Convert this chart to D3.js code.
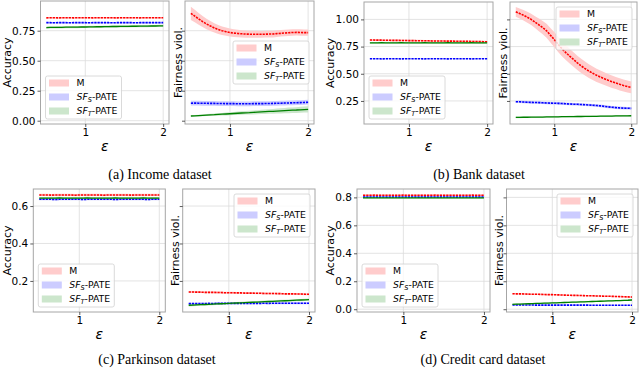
<!DOCTYPE html>
<html>
<head>
<meta charset="utf-8">
<script src="https://cdn.jsdelivr.net/npm/d3@7"></script>
<style>
  body { margin: 0; background: #fff; }
  svg { display: block; }
</style>
</head>
<body>
<svg id="fig" width="640" height="370"></svg>
<script>
// privacy budget values on the x axis
const eps = [0.5, 0.55, 0.6, 0.65, 0.7, 0.75, 0.8, 0.85, 0.9, 0.95, 1.0, 1.05, 1.1, 1.15, 1.2, 1.25,
  1.3, 1.35, 1.4, 1.45, 1.5, 1.55, 1.6, 1.65, 1.7, 1.75, 1.8, 1.85, 1.9, 1.95, 2.0];

// (a) Income
const incAccM = [0.857, 0.858, 0.858, 0.857, 0.858, 0.858, 0.858, 0.857, 0.858, 0.858, 0.858, 0.858, 0.857, 0.858, 0.858, 0.858,
  0.858, 0.858, 0.857, 0.858, 0.858, 0.858, 0.858, 0.858, 0.857, 0.858, 0.858, 0.858, 0.858, 0.858, 0.858];
const incAccS = [0.817, 0.817, 0.816, 0.817, 0.817, 0.817, 0.816, 0.817, 0.817, 0.817, 0.817, 0.816, 0.817, 0.817, 0.817, 0.817,
  0.817, 0.816, 0.817, 0.817, 0.817, 0.817, 0.817, 0.816, 0.817, 0.817, 0.817, 0.817, 0.817, 0.817, 0.817];
const incAccT = [0.776, 0.777, 0.777, 0.778, 0.778, 0.779, 0.779, 0.780, 0.780, 0.781, 0.781, 0.782, 0.782, 0.783, 0.783, 0.784,
  0.784, 0.785, 0.785, 0.786, 0.786, 0.786, 0.787, 0.787, 0.788, 0.788, 0.788, 0.789, 0.789, 0.790, 0.790];
const incFairM = [0.895, 0.872, 0.848, 0.826, 0.806, 0.789, 0.773, 0.760, 0.750, 0.742, 0.735, 0.730, 0.727, 0.724, 0.722, 0.721,
  0.720, 0.721, 0.720, 0.721, 0.722, 0.722, 0.726, 0.728, 0.731, 0.733, 0.735, 0.736, 0.735, 0.734, 0.734];
const incFairMsd = [0.055, 0.052, 0.049, 0.046, 0.043, 0.041, 0.039, 0.037, 0.035, 0.034, 0.033, 0.032, 0.031, 0.030, 0.030, 0.029,
  0.029, 0.029, 0.028, 0.028, 0.028, 0.028, 0.028, 0.027, 0.027, 0.027, 0.027, 0.027, 0.027, 0.027, 0.027];
const incFairS = [0.146, 0.147, 0.146, 0.145, 0.145, 0.144, 0.144, 0.143, 0.143, 0.142, 0.142, 0.142, 0.141, 0.141, 0.141, 0.141,
  0.142, 0.142, 0.142, 0.143, 0.143, 0.144, 0.145, 0.146, 0.147, 0.148, 0.149, 0.150, 0.151, 0.152, 0.154];
const incFairT = [0.039, 0.041, 0.043, 0.045, 0.047, 0.049, 0.050, 0.052, 0.054, 0.056, 0.058, 0.060, 0.062, 0.064, 0.066, 0.067,
  0.069, 0.071, 0.073, 0.075, 0.077, 0.078, 0.080, 0.082, 0.084, 0.086, 0.088, 0.089, 0.091, 0.093, 0.095];
const incFairTsd = [0.005, 0.006, 0.007, 0.007, 0.008, 0.009, 0.010, 0.010, 0.011, 0.012, 0.013, 0.013, 0.014, 0.015, 0.015, 0.016,
  0.017, 0.017, 0.018, 0.019, 0.019, 0.020, 0.021, 0.021, 0.022, 0.023, 0.023, 0.024, 0.025, 0.025, 0.026];

// (b) Bank
const bankAccM = [0.810, 0.810, 0.809, 0.809, 0.808, 0.808, 0.807, 0.807, 0.806, 0.806, 0.805, 0.805, 0.804, 0.804, 0.803, 0.803,
  0.802, 0.802, 0.801, 0.801, 0.800, 0.800, 0.799, 0.799, 0.798, 0.798, 0.797, 0.797, 0.796, 0.795, 0.795];
const bankAccS = [0.638, 0.638, 0.638, 0.637, 0.638, 0.638, 0.638, 0.638, 0.637, 0.638, 0.638, 0.638, 0.638, 0.638, 0.637, 0.638,
  0.638, 0.638, 0.638, 0.638, 0.637, 0.638, 0.638, 0.638, 0.638, 0.638, 0.637, 0.638, 0.638, 0.638, 0.638];
const bankAccT = [0.785, 0.785, 0.785, 0.786, 0.785, 0.785, 0.785, 0.785, 0.786, 0.785, 0.785, 0.785, 0.785, 0.785, 0.786, 0.785,
  0.785, 0.785, 0.785, 0.785, 0.786, 0.785, 0.785, 0.785, 0.785, 0.785, 0.786, 0.785, 0.785, 0.785, 0.785];
const bankFairM = [1.070, 1.055, 1.038, 1.020, 1.000, 0.975, 0.950, 0.925, 0.895, 0.855, 0.815, 0.770, 0.730, 0.695, 0.662, 0.632,
  0.600, 0.572, 0.548, 0.525, 0.505, 0.486, 0.470, 0.455, 0.440, 0.427, 0.415, 0.403, 0.392, 0.383, 0.375];
const bankFairMsd = [0.045, 0.046, 0.048, 0.050, 0.052, 0.055, 0.058, 0.061, 0.064, 0.067, 0.069, 0.070, 0.070, 0.069, 0.068, 0.067,
  0.066, 0.065, 0.064, 0.063, 0.062, 0.061, 0.060, 0.059, 0.058, 0.057, 0.056, 0.056, 0.055, 0.055, 0.055];
const bankFairS = [0.243, 0.242, 0.240, 0.238, 0.237, 0.236, 0.235, 0.233, 0.231, 0.230, 0.229, 0.228, 0.226, 0.224, 0.222, 0.220,
  0.219, 0.217, 0.215, 0.213, 0.211, 0.208, 0.205, 0.200, 0.196, 0.192, 0.189, 0.186, 0.184, 0.183, 0.182];
const bankFairT = [0.099, 0.099, 0.100, 0.100, 0.101, 0.101, 0.102, 0.102, 0.103, 0.103, 0.104, 0.104, 0.105, 0.105, 0.106, 0.106,
  0.107, 0.107, 0.108, 0.108, 0.109, 0.109, 0.110, 0.110, 0.111, 0.111, 0.112, 0.112, 0.113, 0.113, 0.114];

// (c) Parkinson
const parkAccM = [0.659, 0.659, 0.659, 0.658, 0.659, 0.659, 0.659, 0.659, 0.659, 0.658, 0.659, 0.659, 0.659, 0.659, 0.659, 0.659,
  0.658, 0.659, 0.659, 0.659, 0.659, 0.659, 0.659, 0.658, 0.659, 0.659, 0.659, 0.659, 0.659, 0.659, 0.659];
const parkAccS = [0.636, 0.636, 0.636, 0.636, 0.635, 0.636, 0.636, 0.636, 0.636, 0.636, 0.636, 0.635, 0.636, 0.636, 0.636, 0.636,
  0.636, 0.636, 0.636, 0.635, 0.636, 0.636, 0.636, 0.636, 0.636, 0.636, 0.636, 0.635, 0.636, 0.636, 0.636];
const parkAccT = [0.642, 0.642, 0.642, 0.642, 0.642, 0.643, 0.642, 0.642, 0.642, 0.642, 0.642, 0.642, 0.643, 0.642, 0.642, 0.642,
  0.642, 0.642, 0.642, 0.643, 0.642, 0.642, 0.642, 0.642, 0.642, 0.642, 0.643, 0.642, 0.642, 0.642, 0.642];
const parkFairM = [0.141, 0.141, 0.140, 0.140, 0.139, 0.139, 0.139, 0.138, 0.138, 0.137, 0.137, 0.137, 0.136, 0.136, 0.135, 0.135,
  0.135, 0.134, 0.134, 0.133, 0.133, 0.133, 0.132, 0.132, 0.131, 0.131, 0.131, 0.130, 0.130, 0.129, 0.129];
const parkFairS = [0.079, 0.079, 0.079, 0.079, 0.079, 0.080, 0.079, 0.080, 0.080, 0.080, 0.080, 0.080, 0.080, 0.080, 0.080, 0.080,
  0.080, 0.080, 0.080, 0.081, 0.080, 0.081, 0.081, 0.081, 0.081, 0.081, 0.081, 0.081, 0.081, 0.081, 0.081];
const parkFairT = [0.070, 0.071, 0.072, 0.073, 0.074, 0.075, 0.076, 0.077, 0.078, 0.079, 0.080, 0.081, 0.082, 0.083, 0.084, 0.085,
  0.086, 0.087, 0.088, 0.089, 0.090, 0.091, 0.092, 0.093, 0.094, 0.095, 0.096, 0.097, 0.098, 0.099, 0.100];

// (d) Credit card
const credAccM = [0.815, 0.815, 0.815, 0.816, 0.815, 0.815, 0.815, 0.815, 0.815, 0.815, 0.816, 0.815, 0.815, 0.815, 0.815, 0.815,
  0.815, 0.815, 0.816, 0.815, 0.815, 0.815, 0.815, 0.815, 0.815, 0.815, 0.815, 0.816, 0.815, 0.815, 0.815];
const credAccS = [0.803, 0.803, 0.803, 0.803, 0.803, 0.803, 0.802, 0.803, 0.803, 0.803, 0.803, 0.803, 0.803, 0.803, 0.802, 0.803,
  0.803, 0.803, 0.803, 0.803, 0.803, 0.803, 0.803, 0.802, 0.803, 0.803, 0.803, 0.803, 0.803, 0.803, 0.803];
const credAccT = [0.797, 0.797, 0.797, 0.797, 0.797, 0.797, 0.797, 0.797, 0.797, 0.797, 0.797, 0.797, 0.797, 0.797, 0.797, 0.797,
  0.797, 0.797, 0.797, 0.797, 0.797, 0.797, 0.797, 0.797, 0.797, 0.797, 0.797, 0.797, 0.797, 0.797, 0.797];
const credFairM = [0.111, 0.110, 0.110, 0.109, 0.108, 0.107, 0.107, 0.106, 0.105, 0.104, 0.104, 0.103, 0.102, 0.101, 0.100, 0.099,
  0.099, 0.098, 0.097, 0.096, 0.096, 0.095, 0.094, 0.093, 0.093, 0.092, 0.091, 0.090, 0.089, 0.088, 0.087];
const credFairS = [0.030, 0.030, 0.030, 0.030, 0.030, 0.030, 0.029, 0.029, 0.029, 0.029, 0.029, 0.029, 0.029, 0.029, 0.029, 0.029,
  0.029, 0.029, 0.029, 0.029, 0.028, 0.028, 0.028, 0.028, 0.028, 0.028, 0.028, 0.028, 0.028, 0.028, 0.028];
const credFairT = [0.035, 0.036, 0.037, 0.038, 0.039, 0.040, 0.041, 0.042, 0.043, 0.044, 0.045, 0.046, 0.047, 0.048, 0.049, 0.050,
  0.051, 0.052, 0.053, 0.054, 0.055, 0.056, 0.057, 0.058, 0.059, 0.060, 0.061, 0.062, 0.063, 0.064, 0.066];

// tick values
const incTicks = [0, 0.25, 0.5, 0.75];
const bankTicks = [0.25, 0.5, 0.75, 1.0];
const parkTicks = [0.2, 0.4, 0.6];
const credTicks = [0, 0.2, 0.4, 0.6, 0.8];
const xTicks = [1, 2];

const captions = ['(a) Income dataset', '(b) Bank dataset', '(c) Parkinson dataset', '(d) Credit card dataset'];

const colours = { M: '#ff0000', S: '#0000ff', T: '#008000' };
const fills = { M: '#ffcccc', S: '#ccccff', T: '#cce6cc' };

const s = (key, mean, sd) => ({ key, mean, sd });

const panels = [
  { x0: 40.5, x1: 169, y0: 1, y1: 124, dom: [-0.0275, 0.9975], ticks: incTicks, fmt: '.2f', label: 'Accuracy', lx: 6.7, legend: 'll',
    series: [s('M', incAccM, 0.006), s('S', incAccS, 0.006), s('T', incAccT, 0.009)] },
  { x0: 185, x1: 314, y0: 1, y1: 124, dom: [-0.0275, 0.9975], ticks: incTicks, label: 'Fairness viol.', lx: 178.3, legend: 'cr',
    series: [s('M', incFairM, incFairMsd), s('S', incFairS, 0.02), s('T', incFairT, incFairTsd)] },
  { x0: 364, x1: 493, y0: 2, y1: 124, dom: [0.038, 1.16], ticks: bankTicks, fmt: '.2f', label: 'Accuracy', lx: 330, legend: 'll',
    series: [s('M', bankAccM, 0.008), s('S', bankAccS, 0.004), s('T', bankAccT, 0.008)] },
  { x0: 510, x1: 637, y0: 2, y1: 124, dom: [0.038, 1.16], ticks: bankTicks, label: 'Fairness viol.', lx: 502.7, legend: 'ur',
    series: [s('M', bankFairM, bankFairMsd), s('S', bankFairS, 0.012), s('T', bankFairT, 0.007)] },
  { x0: 33.3, x1: 165.3, y0: 189, y1: 312, dom: [0.034, 0.691], ticks: parkTicks, fmt: '.1f', label: 'Accuracy', lx: 6.7, legend: 'll',
    series: [s('M', parkAccM, 0.006), s('S', parkAccS, 0.005), s('T', parkAccT, 0.006)] },
  { x0: 182.7, x1: 315, y0: 189, y1: 312, dom: [0.034, 0.691], ticks: parkTicks, label: 'Fairness viol.', lx: 175, legend: 'ur',
    series: [s('M', parkFairM, 0.005), s('S', parkFairS, 0.005), s('T', parkFairT, 0.006)] },
  { x0: 357, x1: 490, y0: 189, y1: 312, dom: [-0.02, 0.86], ticks: credTicks, fmt: '.1f', label: 'Accuracy', lx: 330, legend: 'll',
    series: [s('M', credAccM, 0.006), s('S', credAccS, 0.005), s('T', credAccT, 0.005)] },
  { x0: 506.5, x1: 638, y0: 189, y1: 312, dom: [-0.02, 0.86], ticks: credTicks, label: 'Fairness viol.', lx: 499.3, legend: 'ur',
    series: [s('M', credFairM, 0.005), s('S', credFairS, 0.004), s('T', credFairT, 0.005)] }
];

const svg = d3.select('#fig');
const defs = svg.append('defs');

function legendLabel(text, key) {
  if (key === 'M') {
    text.append('tspan').text('M');
    return;
  }
  text.append('tspan').attr('font-style', 'italic').text('SF');
  text.append('tspan').attr('font-style', 'italic').attr('font-size', '6.6px').attr('dy', 2).text(key);
  text.append('tspan').attr('dy', -2).text('-PATE');
}

function drawPanel(p, i) {
  const x = d3.scaleLinear().domain([0.425, 2.075]).range([p.x0, p.x1]);
  const y = d3.scaleLinear().domain(p.dom).range([p.y1, p.y0]);
  const g = svg.append('g');

  defs.append('clipPath').attr('id', `clip-${i}`)
    .append('rect').attr('x', p.x0).attr('y', p.y0).attr('width', p.x1 - p.x0).attr('height', p.y1 - p.y0);

  // grid
  g.selectAll('.gy').data(p.ticks).enter().append('line')
    .attr('x1', p.x0).attr('x2', p.x1)
    .attr('y1', d => y(d)).attr('y2', d => y(d))
    .style('stroke', '#dcdcdc').style('stroke-width', 0.8);
  g.selectAll('.gx').data(xTicks).enter().append('line')
    .attr('x1', d => x(d)).attr('x2', d => x(d))
    .attr('y1', p.y0).attr('y2', p.y1)
    .style('stroke', '#dcdcdc').style('stroke-width', 0.8);

  const plot = g.append('g').attr('clip-path', `url(#clip-${i})`);

  p.series.forEach(se => {
    const sdAt = j => (Array.isArray(se.sd) ? se.sd[j] : se.sd);
    const area = d3.area()
      .x((d, j) => x(eps[j]))
      .y0((d, j) => y(d - sdAt(j)))
      .y1((d, j) => y(d + sdAt(j)));
    plot.append('path').datum(se.mean)
      .attr('d', area)
      .style('fill', fills[se.key]).style('stroke', 'none');
  });

  p.series.forEach(se => {
    const line = d3.line().x((d, j) => x(eps[j])).y(d => y(d));
    plot.append('path').datum(se.mean)
      .attr('d', line)
      .style('fill', 'none')
      .style('stroke', colours[se.key])
      .style('stroke-width', se.key === 'T' ? 1.3 : 1.6)
      .style('stroke-dasharray', se.key === 'T' ? null : '2.2,1');
  });

  // frame
  g.append('rect')
    .attr('x', p.x0).attr('y', p.y0).attr('width', p.x1 - p.x0).attr('height', p.y1 - p.y0)
    .style('fill', 'none').style('stroke', '#a6a6a6').style('stroke-width', 1);

  // axes
  const yAxis = d3.axisLeft(y).tickValues(p.ticks).tickSize(3).tickPadding(2)
    .tickFormat(p.fmt ? d3.format(p.fmt) : () => '');
  const ya = g.append('g').attr('transform', `translate(${p.x0},0)`).call(yAxis);
  const xAxis = d3.axisBottom(x).tickValues(xTicks).tickSize(3).tickPadding(2).tickFormat(d3.format('d'));
  const xa = g.append('g').attr('transform', `translate(0,${p.y1})`).call(xAxis);
  [ya, xa].forEach(a => {
    a.select('.domain').remove();
    a.selectAll('line').style('stroke', '#333').style('stroke-width', 0.8);
    a.selectAll('text').style('font-family', 'DejaVu Sans').style('font-size', '10.5px').style('fill', '#000');
  });

  // labels
  g.append('text')
    .attr('transform', `translate(${p.lx},${(p.y0 + p.y1) / 2}) rotate(-90)`)
    .attr('text-anchor', 'middle').attr('dy', '0.35em')
    .style('font-family', 'DejaVu Sans').style('font-size', '11px')
    .text(p.label);
  g.append('text')
    .attr('x', (p.x0 + p.x1) / 2).attr('y', p.y1 + 27)
    .attr('text-anchor', 'middle')
    .style('font-family', 'DejaVu Sans').style('font-size', '14px').style('font-style', 'italic')
    .text('ε');

  // legend
  const lw = 76, lh = 43;
  let lxp, lyp;
  if (p.legend === 'll') { lxp = p.x0 + 5; lyp = p.y1 - 5 - lh; }
  else if (p.legend === 'ur') { lxp = p.x1 - 5 - lw; lyp = p.y0 + 5; }
  else { lxp = p.x1 - 5 - lw; lyp = (p.y0 + p.y1) / 2 - lh / 2; }
  const lg = g.append('g').attr('transform', `translate(${lxp},${lyp})`);
  lg.append('rect').attr('width', lw).attr('height', lh).attr('rx', 2)
    .style('fill', '#fff').style('fill-opacity', 0.8).style('stroke', '#d0d0d0').style('stroke-width', 0.8);
  p.series.forEach((se, j) => {
    const cy = 7 + j * 14;
    lg.append('rect').attr('x', 3.5).attr('y', cy - 3.5).attr('width', 20).attr('height', 7)
      .style('fill', fills[se.key]);
    const t = lg.append('text').attr('x', 31).attr('y', cy).attr('dy', '0.35em')
      .style('font-family', 'DejaVu Sans').style('font-size', '9.3px');
    legendLabel(t, se.key);
  });
}

panels.forEach(drawPanel);

// captions
const capPos = [[160, 179], [479, 179], [157, 364], [483, 364]];
svg.selectAll('.cap').data(captions).enter().append('text')
  .attr('x', (d, i) => capPos[i][0]).attr('y', (d, i) => capPos[i][1])
  .attr('text-anchor', 'middle')
  .style('font-family', 'Liberation Serif').style('font-size', '14px')
  .text(d => d);
</script>
</body>
</html>
